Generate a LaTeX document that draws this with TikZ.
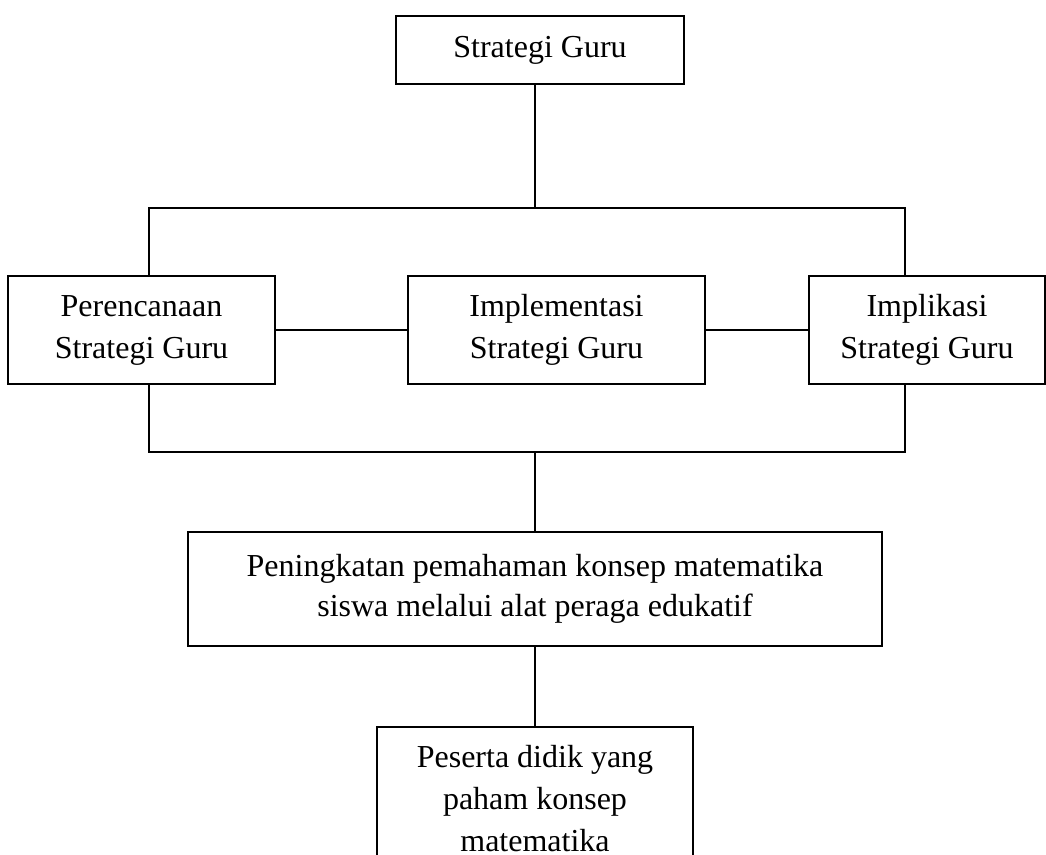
\documentclass[tikz,border=0pt]{standalone}
\usepackage{fontspec}
\setmainfont{Liberation Serif}

\begin{document}
\begin{tikzpicture}[x=0.5pt,y=-0.5pt,
		kotak/.style={draw,line width=1pt,align=center,inner sep=0pt,font=\fontsize{16}{21}\selectfont},
		garis/.style={line width=1pt}]
			\useasboundingbox (0,0) rectangle (1046,855);
			\clip (0,0) rectangle (1046,855);
			\node[kotak,minimum width=144pt,minimum height=34pt] (strategi) at (540,50) {Strategi Guru};
			\node[kotak,minimum width=133.5pt,minimum height=54pt] (rencana) at (141.5,330) {Perencanaan\\Strategi Guru};
			\node[kotak,minimum width=148.5pt,minimum height=54pt] (implementasi) at (556.5,330) {Implementasi\\Strategi Guru};
			\node[kotak,minimum width=118pt,minimum height=54pt] (implikasi) at (927,330) {Implikasi\\Strategi Guru};
			\node[kotak,minimum width=347pt,minimum height=57pt,font=\fontsize{16}{20}\selectfont] (pemahaman) at (535,589) {Peningkatan pemahaman konsep matematika\\siswa melalui alat peraga edukatif};
			\node[kotak,minimum width=158pt,inner ysep=9pt,anchor=north] (peserta) at (535,726) {Peserta didik yang\\paham konsep\\matematika};
			\coordinate (atas) at (535,208);
			\coordinate (atas-l) at (149,208);
			\coordinate (atas-r) at (905,208);
			\coordinate (bawah) at (535,452);
			\coordinate (bawah-l) at (149,452);
			\coordinate (bawah-r) at (905,452);
			\draw[garis] (atas-l |- rencana.north) -- (atas-l) -- (atas-r) -- (atas-r |- implikasi.north);
			\draw[garis] (atas-l |- rencana.south) -- (bawah-l) -- (bawah-r) -- (bawah-r |- implikasi.south);
			\path[garis]
			(strategi.south -| atas) edge (atas)
			(rencana.east) edge (implementasi.west)
			(implementasi.east) edge (implikasi.west)
			(bawah) edge (bawah |- pemahaman.north)
			(pemahaman.south -| bawah) edge (bawah |- peserta.north);
		\end{tikzpicture}
\end{document}
